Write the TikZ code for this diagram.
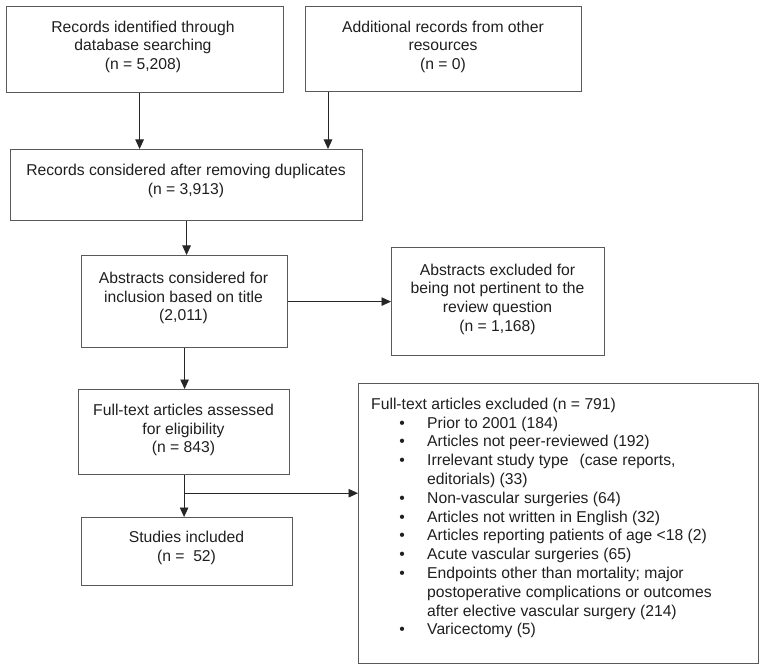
\documentclass[tikz,border=0pt]{standalone}
\usepackage{fontspec}
\setmainfont{Liberation Sans}
\usetikzlibrary{arrows.meta,calc}
\begin{document}
\begin{tikzpicture}[x=1pt,y=-1pt,
  box/.style={draw=black!65, line width=1.2pt, rectangle, inner sep=0pt, anchor=north west},
  txt/.style={inner sep=0pt, anchor=north, align=center, text=black!88,
    font=\fontsize{15.7}{18.8}\selectfont},
  ltxt/.style={inner sep=0pt, anchor=north west, align=left, text=black!88,
    font=\fontsize{15.7}{18.8}\selectfont},
  arr/.style={draw=black!85, line width=0.9pt, -{Triangle[length=9.5pt,width=8.5pt]}}]
\useasboundingbox (0,0) rectangle (769,671);
\newcommand{\bul}[1]{\hspace*{28.2pt}\makebox[27.8pt][l]{•}#1}
\newcommand{\cont}[1]{\hspace*{56pt}#1}
% boxes
\node[box, minimum width=277pt, minimum height=86pt] (b1) at (6,6) {};
\node[box, minimum width=276pt, minimum height=85pt] (b2) at (305,6) {};
\node[box, minimum width=352pt, minimum height=71pt] (b3) at (10,149) {};
\node[box, minimum width=206pt, minimum height=92pt] (b4) at (81,255) {};
\node[box, minimum width=213pt, minimum height=108pt] (b5) at (391,247) {};
\node[box, minimum width=211pt, minimum height=85pt] (b6) at (78,389) {};
\node[box, minimum width=211pt, minimum height=68pt] (b7) at (81,517) {};
\node[box, minimum width=400pt, minimum height=280pt] (b8) at (358,383) {};
% texts (anchored at first baseline minus strut height 13.16)
\node[txt] (t1) at (143,18.84) {\strut Records identified through\\database searching\\(n = 5,208)};
\node[txt] (t2) at (443,18.84) {\strut Additional records from other\\resources\\(n = 0)};
\node[txt] (t3) at (186,162.34) {\strut Records considered after removing duplicates\\(n = 3,913)};
\node[txt] (t4) at (183.5,269.84) {\strut Abstracts considered for\\inclusion based on title\\(2,011)};
\node[txt] (t5) at (497.5,261.84) {\strut Abstracts excluded for\\being not pertinent to the\\review question\\(n = 1,168)};
\node[txt] (t6) at (183.5,401.84) {\strut Full-text articles assessed\\for eligibility\\(n = 843)};
\node[txt] (t7) at (186.5,528.84) {\strut Studies included\\(n = \ 52)};
\node[ltxt] (t8) at (371,395.84) {\strut Full-text articles excluded (n = 791)\\
\bul{Prior to 2001 (184)}\\
\bul{Articles not peer-reviewed (192)}\\
\bul{Irrelevant study type\hspace{11pt}(case reports,}\\
\cont{editorials) (33)}\\
\bul{Non-vascular surgeries (64)}\\
\bul{Articles not written in English (32)}\\
\bul{Articles reporting patients of age <18 (2)}\\
\bul{Acute vascular surgeries (65)}\\
\bul{Endpoints other than mortality; major}\\
\cont{postoperative complications or outcomes}\\
\cont{after elective vascular surgery (214)}\\
\bul{Varicectomy (5)}};
% connectors
\draw[arr] ([xshift=-5.5pt]b1.south) -- ([xshift=-5.5pt]b1.south |- b3.north);
\draw[arr] ([xshift=23pt]b2.south west) -- ([xshift=23pt]b2.south west |- b3.north);
\draw[arr] (b3.south) -- (b3.south |- b4.north);
\draw[arr] (b4.east) -- (b5.west);
\draw[arr] (b4.south) -- (b4.south |- b6.north);
\draw[arr] (b6.south) -- (b6.south |- b7.north);
\coordinate (br) at ([yshift=-18pt]b6.south);
\draw[arr] (br) -- (br -| b8.west);
\end{tikzpicture}
\end{document}
